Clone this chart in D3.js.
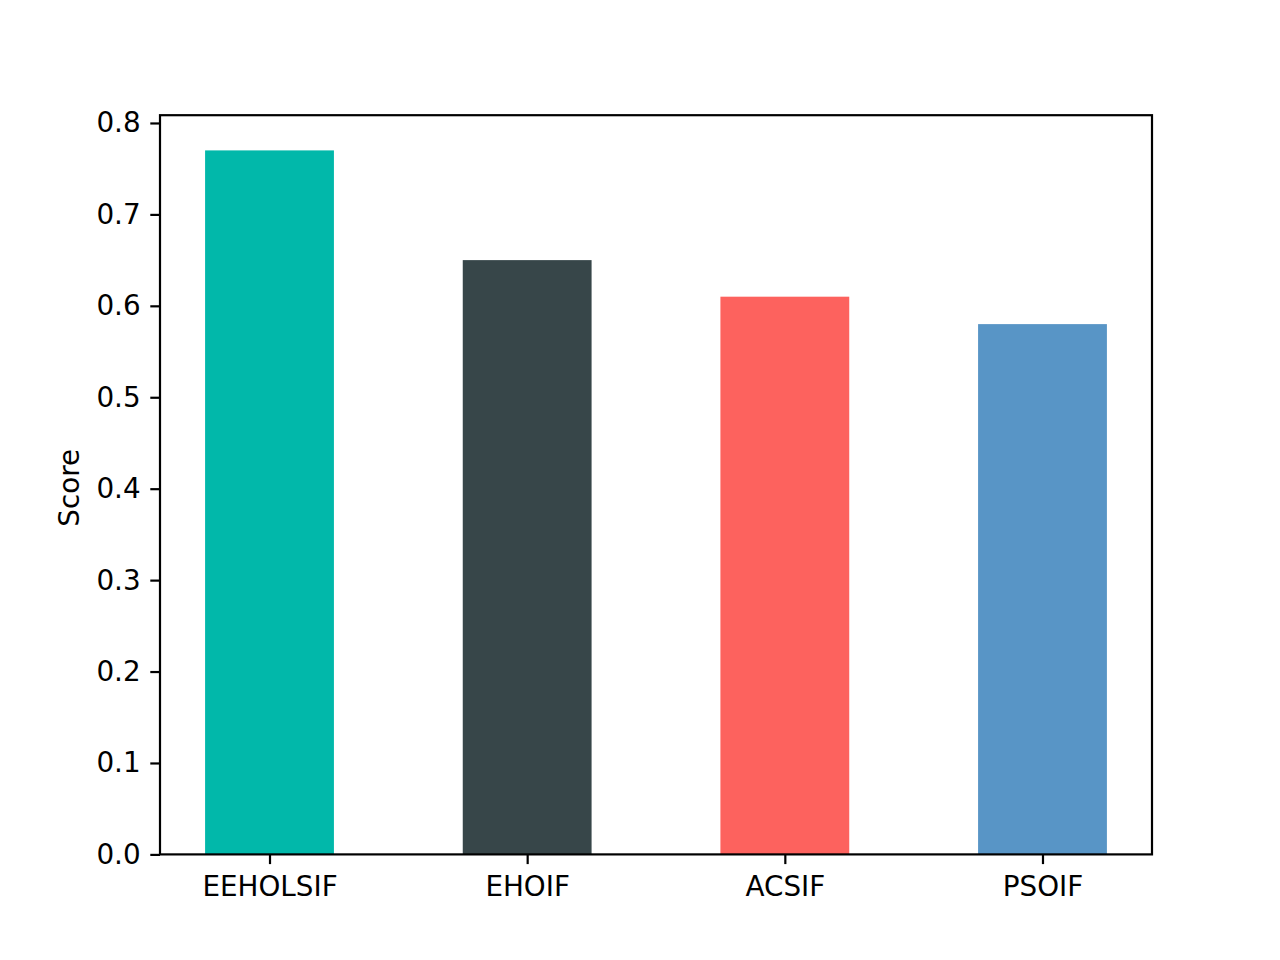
<!DOCTYPE html>
<html><head><meta charset="utf-8">
<script src="https://cdn.jsdelivr.net/npm/d3@7"></script>
<style>body{margin:0;background:#fff}svg{display:block}text{font-family:"DejaVu Sans",sans-serif}</style>
</head><body>
<script>
const categories = ["EEHOLSIF", "EHOIF", "ACSIF", "PSOIF"];
const scores = [0.77, 0.65, 0.61, 0.58];
const colors = ["#01B8AA", "#374649", "#FD625E", "#5895C6"];
const yTicks = [0.0, 0.1, 0.2, 0.3, 0.4, 0.5, 0.6, 0.7, 0.8];
const yLabel = "Score";

(function () {
const W = 1280, H = 960;
const mLeft = 160, mRight = 1152, mTop = 115.2, mBottom = 854.4;
const fs = 27.8, tickLen = 9.7, pad = 9.7, lw = 2.2;

const svg = d3.select("body").append("svg").attr("width", W).attr("height", H);

const x = d3.scaleLinear().domain([-0.425, categories.length - 1 + 0.425]).range([mLeft, mRight]);
const y = d3.scaleLinear().domain([0, d3.max(scores) * 1.05]).range([mBottom, mTop]);
const bw = 0.5;

svg.append("g").selectAll("rect").data(scores).join("rect")
  .attr("x", (d, i) => x(i - bw / 2))
  .attr("width", (d, i) => x(i + bw / 2) - x(i - bw / 2))
  .attr("y", d => y(d))
  .attr("height", d => y(0) - y(d))
  .attr("fill", (d, i) => colors[i]);

svg.append("rect").attr("x", mLeft).attr("y", mTop).attr("width", mRight - mLeft).attr("height", mBottom - mTop)
  .attr("fill", "none").attr("stroke", "#000").attr("stroke-width", lw);

const yAxis = d3.axisLeft(y).tickValues(yTicks).tickFormat(d3.format(".1f")).tickSize(tickLen).tickPadding(pad);
const gy = svg.append("g").attr("transform", `translate(${mLeft},0)`).call(yAxis);
gy.select(".domain").remove();
gy.selectAll(".tick line").attr("stroke-width", lw);
gy.selectAll(".tick text").attr("font-size", fs).attr("font-family", "DejaVu Sans").attr("fill", "#000");

const xAxis = d3.axisBottom(x).tickValues(categories.map((c, i) => i)).tickFormat(i => categories[i]).tickSize(tickLen).tickPadding(pad + 2);
const gx = svg.append("g").attr("transform", `translate(0,${mBottom})`).call(xAxis);
gx.select(".domain").remove();
gx.selectAll(".tick line").attr("stroke-width", lw);
gx.selectAll(".tick text").attr("font-size", fs).attr("font-family", "DejaVu Sans").attr("fill", "#000");

svg.append("text").attr("transform", `translate(79,${(mTop + mBottom) / 2 + 3}) rotate(-90)`)
  .attr("text-anchor", "middle").attr("font-size", fs).text(yLabel);
})();
</script>
</body></html>
